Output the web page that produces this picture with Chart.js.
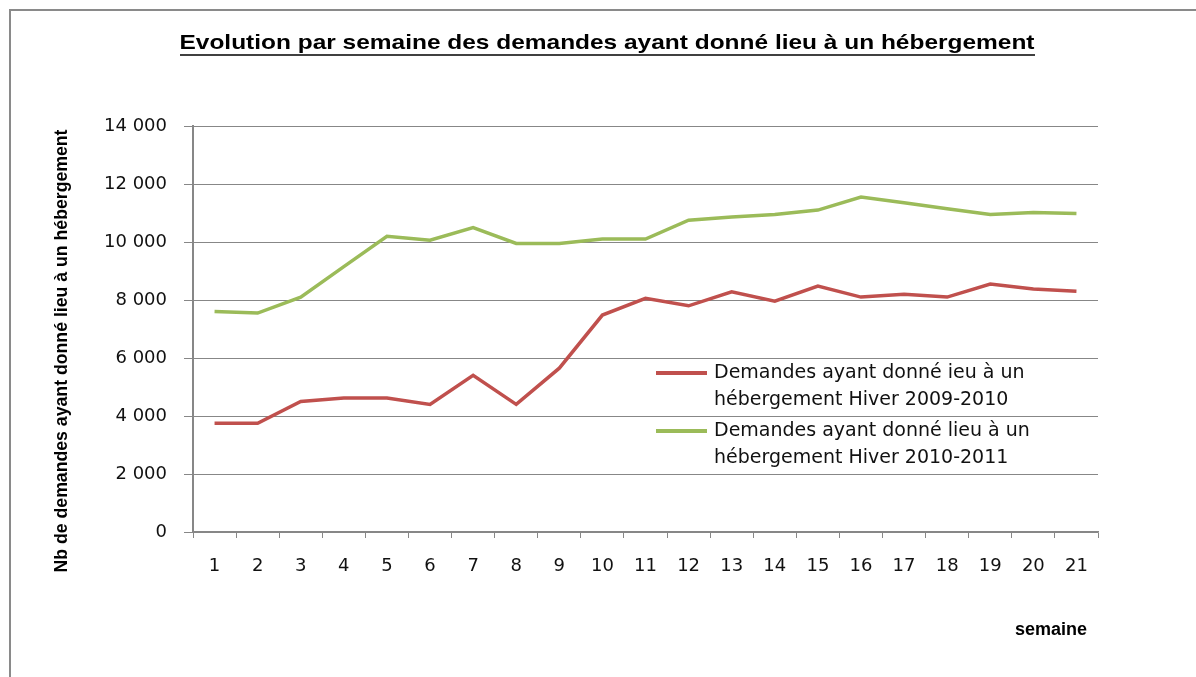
<!DOCTYPE html>
<html>
<head>
<meta charset="utf-8">
<script src="https://cdn.jsdelivr.net/npm/chart.js@4/dist/chart.umd.min.js"></script>
<style>
  html, body { margin: 0; padding: 0; background: #fff; }
  #wrap { position: relative; width: 1196px; height: 677px; overflow: hidden; }
  #frame { position: absolute; left: 9px; top: 9px; width: 1300px; height: 800px;
           border-left: 2px solid #8a8a8a; border-top: 2px solid #8a8a8a; }
  canvas { position: absolute; left: 0; top: 0; }
</style>
</head>
<body>
<div id="wrap">
  <div id="frame"></div>
  <canvas id="hebergement" width="1196" height="677"></canvas>
</div>
<script>
const semaines = ["1","2","3","4","5","6","7","8","9","10","11","12","13","14","15","16","17","18","19","20","21"];
const hiver2009_2010 = [3750, 3750, 4500, 4620, 4620, 4400, 5400, 4400, 5650, 7480, 8060, 7800, 8280, 7960, 8480, 8100, 8200, 8100, 8550, 8380, 8300];
const hiver2010_2011 = [7600, 7550, 8100, 9150, 10200, 10060, 10500, 9950, 9950, 10100, 10100, 10750, 10860, 10950, 11100, 11550, 11350, 11150, 10950, 11020, 10980];
const label2009_2010 = ["Demandes ayant donné ieu à un", "hébergement Hiver 2009-2010"];
const label2010_2011 = ["Demandes ayant donné lieu à un", "hébergement Hiver 2010-2011"];
const titre = "Evolution par semaine des demandes ayant donné lieu à un hébergement";
const titreAxeY = "Nb de demandes ayant donné lieu à un hébergement";
const titreAxeX = "semaine";

const fmt = (v) => String(v).replace(/\B(?=(\d{3})+(?!\d))/g, " ");

// titles + legend drawn on top of the chart
const decor = {
  id: "decor",
  afterDraw(chart) {
    const ctx = chart.ctx;
    ctx.save();
    ctx.fillStyle = "#000";
    ctx.textBaseline = "middle";

    // main title, stretched to the width of the original, underlined
    ctx.font = "bold 21px 'Liberation Sans'";
    ctx.textAlign = "center";
    const kt = 855 / ctx.measureText(titre).width;
    ctx.save();
    ctx.translate(607, 43);
    ctx.scale(kt, 1);
    ctx.fillText(titre, 0, 0);
    ctx.restore();
    ctx.strokeStyle = "#000";
    ctx.lineWidth = 1.6;
    ctx.beginPath();
    ctx.moveTo(180, 55);
    ctx.lineTo(1035, 55);
    ctx.stroke();

    // y axis title
    ctx.save();
    ctx.translate(62, 351);
    ctx.rotate(-Math.PI / 2);
    ctx.font = "bold 18px 'Liberation Sans'";
    ctx.fillText(titreAxeY, 0, 0, 443);
    ctx.restore();

    // x axis title
    ctx.font = "bold 18px 'Liberation Sans'";
    ctx.textAlign = "right";
    ctx.fillText(titreAxeX, 1087, 630, 87);

    // legend inside plot area
    ctx.textAlign = "left";
    ctx.font = "19px 'DejaVu Sans'";
    const k = 336 / ctx.measureText(label2010_2011[0]).width;
    chart.data.datasets.forEach((ds, i) => {
      const y0 = 373 + i * 58;
      ctx.strokeStyle = ds.borderColor;
      ctx.lineWidth = 4;
      ctx.beginPath();
      ctx.moveTo(656, y0);
      ctx.lineTo(707, y0);
      ctx.stroke();
      ctx.fillStyle = "#111";
      ds.label.forEach((line, j) => {
        const w = ctx.measureText(line).width * k;
        ctx.fillText(line, 714, y0 + j * 27, w);
      });
    });
    ctx.restore();
  }
};

new Chart(document.getElementById("hebergement").getContext("2d"), {
  type: "line",
  data: {
    labels: semaines,
    datasets: [
      {
        label: label2009_2010,
        data: hiver2009_2010,
        borderColor: "#C0504D",
        borderWidth: 3.5,
        pointRadius: 0,
        tension: 0,
      },
      {
        label: label2010_2011,
        data: hiver2010_2011,
        borderColor: "#9BBB59",
        borderWidth: 3.5,
        pointRadius: 0,
        tension: 0,
      },
    ],
  },
  options: {
    responsive: false,
    animation: false,
    layout: { padding: { left: 0, top: 126, right: 98, bottom: 0 } },
    plugins: {
      legend: { display: false },
      tooltip: { enabled: false },
    },
    scales: {
      x: {
        offset: true,
        afterFit: (s) => { s.height = 145; },
        grid: { offset: true, drawOnChartArea: false, drawTicks: true, tickLength: 6, color: "#878787", lineWidth: 1 },
        border: { display: true, color: "#878787", width: 1.5 },
        ticks: { color: "#111", font: { family: "DejaVu Sans", size: 18 }, padding: 18, maxRotation: 0 },
      },
      y: {
        min: 0,
        max: 14000,
        afterFit: (s) => { s.width = 193; },
        grid: { color: "#878787", lineWidth: 1, tickLength: 9 },
        border: { display: true, color: "#878787", width: 2 },
        ticks: {
          stepSize: 2000,
          color: "#111",
          font: { family: "DejaVu Sans", size: 18 },
          padding: 17,
          callback: (v) => fmt(v),
        },
      },
    },
  },
  plugins: [decor],
});
</script>
</body>
</html>
